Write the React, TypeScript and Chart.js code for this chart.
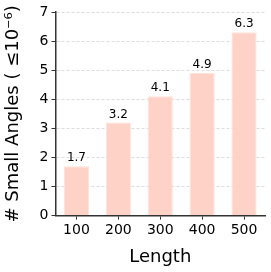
import React, { useEffect, useRef } from "react";
import { Chart, registerables } from "chart.js";

Chart.register(...registerables);

const categories = ["100", "200", "300", "400", "500"];
const values = [1.7, 3.2, 4.1, 4.9, 6.3];
const labels = ["1.7", "3.2", "4.1", "4.9", "6.3"];

const FONT = "'DejaVu Sans', sans-serif";

const valueLabelPlugin = {
  id: "valueLabels",
  afterDatasetsDraw(chart: any) {
    const ctx = chart.ctx;
    const meta = chart.getDatasetMeta(0);
    ctx.save();
    ctx.fillStyle = "#000";
    ctx.font = `12px ${FONT}`;
    ctx.textAlign = "center";
    ctx.textBaseline = "alphabetic";
    meta.data.forEach((bar: any, i: number) => {
      ctx.fillText(labels[i], bar.x, bar.y - 5);
    });
    ctx.restore();
  },
};

export default function App() {
  const ref = useRef<HTMLCanvasElement>(null);
  useEffect(() => {
    document.body.style.margin = "0";
    const chart = new Chart(ref.current!, {
      type: "bar",
      data: {
        labels: categories,
        datasets: [
          {
            data: values,
            backgroundColor: "rgb(255, 210, 199)",
            borderColor: "rgb(255, 226, 219)",
            borderWidth: 1,
            barPercentage: 0.6,
            categoryPercentage: 1,
          },
        ],
      },
      options: {
        animation: false,
        responsive: false,
        maintainAspectRatio: false,
        layout: { padding: { top: 12, right: 6, left: 3, bottom: 4 } },
        plugins: { legend: { display: false }, tooltip: { enabled: false } },
        scales: {
          x: {
            grid: {
              display: true,
              drawOnChartArea: false,
              drawTicks: true,
              offset: false,
              tickLength: 4,
              tickColor: "#333",
            },
            border: { color: "#333", width: 1.5 },
            ticks: { color: "#000", font: { family: FONT, size: 14 }, padding: 2 },
            title: {
              display: true,
              text: "Length",
              color: "#000",
              font: { family: FONT, size: 18 },
              padding: { top: 6, bottom: 0 },
            },
          },
          y: {
            min: 0,
            max: 7,
            ticks: { stepSize: 1, color: "#000", font: { family: FONT, size: 14 }, padding: 3 },
            grid: {
              color: "#ddd",
              tickColor: "#333",
              tickLength: 4,
              drawTicks: true,
            },
            border: { color: "#333", width: 1.5, dash: [3, 2] },
            title: {
              display: true,
              text: "# Small Angles ( ≤10⁻⁶)",
              color: "#000",
              font: { family: FONT, size: 18 },
              padding: { top: 0, bottom: 12 },
            },
          },
        },
      },
      plugins: [valueLabelPlugin],
    });
    return () => chart.destroy();
  }, []);
  return (
    <div style={{ width: 271, height: 272 }}>
      <canvas ref={ref} width={271} height={272} />
    </div>
  );
}
